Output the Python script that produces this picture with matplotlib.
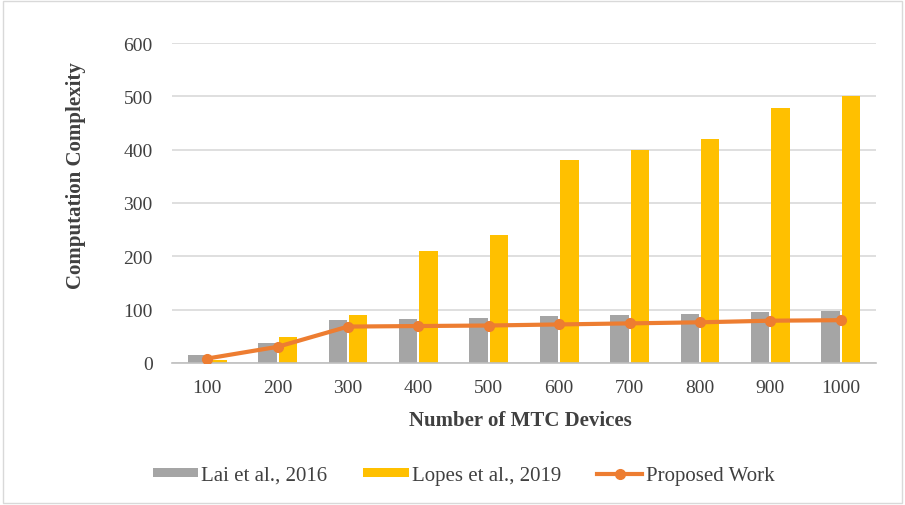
import matplotlib.pyplot as plt
import numpy as np

devices = ["100", "200", "300", "400", "500", "600", "700", "800", "900", "1000"]
lai_2016 = [15, 38, 80, 82, 85, 88, 90, 92, 95, 98]
lopes_2019 = [5, 48, 90, 210, 240, 380, 400, 420, 478, 500]
proposed = [8, 30, 68, 69, 70, 72, 74, 76, 79, 80]

plt.rcParams['font.family'] = ['Liberation Serif', 'DejaVu Serif']

fig = plt.figure(figsize=(9.05, 5.06), dpi=100)
ax = fig.add_axes([0.19, 0.281, 0.778, 0.632])

x = np.arange(len(devices))
w = 0.26
b1 = ax.bar(x - w / 2 - 0.015, lai_2016, w, color="#A5A5A5", zorder=2)
b2 = ax.bar(x + w / 2 + 0.015, lopes_2019, w, color="#FFC000", zorder=2)
l1, = ax.plot(x, proposed, color="#ED7D31", lw=3, marker="o", ms=7, zorder=3)

ax.set_xlim(-0.5, len(devices) - 0.5)
ax.set_ylim(0, 600)
ax.set_yticks(range(0, 601, 100))
ax.set_xticks(x)
ax.set_xticklabels(devices)
ax.tick_params(length=0, labelsize=14, colors="#404040")
ax.tick_params(axis="y", pad=14)
ax.tick_params(axis="x", pad=12)
ax.yaxis.grid(True, color="#D9D9D9", lw=1.2, zorder=0)
ax.set_axisbelow(True)
for s in ["top", "right", "left"]:
    ax.spines[s].set_visible(False)
ax.spines["bottom"].set_color("#BFBFBF")
ax.spines["bottom"].set_linewidth(1.2)

ax.set_xlabel("Number of MTC Devices", fontsize=15, fontweight="bold", color="#404040")
ax.set_ylabel("Computation Complexity", fontsize=15, fontweight="bold", color="#404040")
ax.xaxis.set_label_coords(0.495, -0.147)
ax.yaxis.set_label_coords(-0.122, 0.5875)

fig.legend([b1, b2, l1], ["Lai et al., 2016", "Lopes et al., 2019", "Proposed Work"],
           loc="center", bbox_to_anchor=(0.512, 0.059), ncol=3, frameon=False,
           fontsize=15, handlelength=2.2, handleheight=0.3, columnspacing=1.7,
           handletextpad=0.15, labelcolor="#404040")

border = plt.Rectangle((0.003, 0.003), 0.994, 0.994, transform=fig.transFigure,
                       fill=False, edgecolor="#D9D9D9", lw=1)
fig.patches.append(border)

fig.savefig("out.png", dpi=100)
